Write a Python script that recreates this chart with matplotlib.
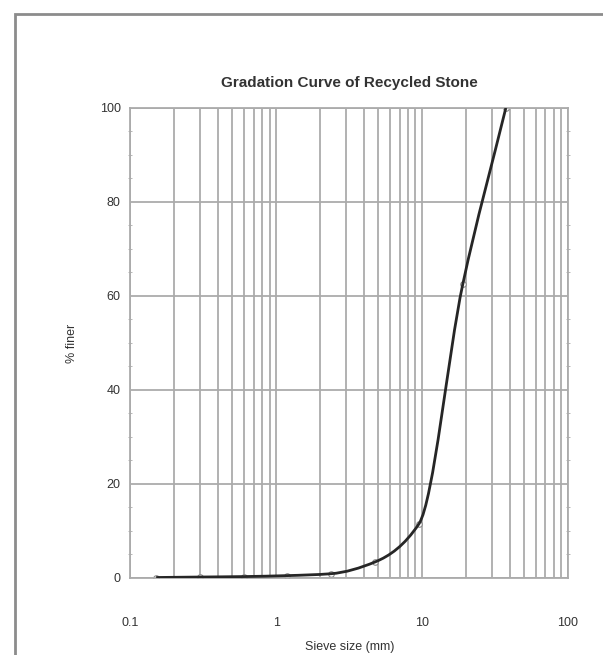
import numpy as np
import matplotlib.pyplot as plt
from matplotlib.path import Path
from matplotlib.patches import PathPatch, Rectangle
from matplotlib.ticker import LogLocator, MultipleLocator, NullFormatter

plt.rcParams['font.family'] = ['Liberation Sans', 'DejaVu Sans']

# sieve analysis results
sieve_mm = [0.15, 0.3, 0.6, 1.18, 2.36, 4.75, 9.5, 19.0, 37.5]
pct_finer = [0.1, 0.2, 0.3, 0.5, 0.9, 3.4, 11.5, 62.5, 100.0]
x_ticks = [0.1, 1, 10, 100]
x_tick_labels = ['0.1', '1', '10', '100']
y_ticks = [0, 20, 40, 60, 80, 100]

grid_col = '#ababab'
text_col = '#333333'


def smooth_path(xs, ys):
    # monotone cubic (Fritsch-Carlson tangents) through the points in log-x space,
    # written as bezier segments so the axes transform does the mapping
    u = np.log10(xs)
    y = np.asarray(ys, dtype=float)
    h = np.diff(u)
    d = np.diff(y) / h
    m = np.zeros_like(y)
    m[0], m[-1] = d[0], d[-1]
    for i in range(1, len(y) - 1):
        if d[i - 1] * d[i] > 0:
            w1 = 2 * h[i] + h[i - 1]
            w2 = h[i] + 2 * h[i - 1]
            m[i] = (w1 + w2) / (w1 / d[i - 1] + w2 / d[i])
    verts = [(u[0], y[0])]
    codes = [Path.MOVETO]
    for i in range(len(y) - 1):
        verts += [(u[i] + h[i] / 3, y[i] + m[i] * h[i] / 3),
                  (u[i + 1] - h[i] / 3, y[i + 1] - m[i + 1] * h[i] / 3),
                  (u[i + 1], y[i + 1])]
        codes += [Path.CURVE4] * 3
    verts = np.array(verts)
    verts[:, 0] = 10 ** verts[:, 0]
    return Path(verts, codes)


fig = plt.figure(figsize=(6.03, 6.55), dpi=100)
ax = fig.add_axes([0.2164, 0.1176, 0.7255, 0.7176])

# chart area frame (only top and left edges fall inside the image)
fig.patches.append(Rectangle((0.0249, -0.1), 1.2, 1.0786, transform=fig.transFigure,
                             fill=False, edgecolor='#8c8c8c', linewidth=2.0))

ax.set_xscale('log')
ax.set_xlim(0.1, 100)
ax.set_ylim(0, 100)

ax.set_xticks(x_ticks)
ax.set_xticklabels(x_tick_labels)
ax.xaxis.set_minor_locator(LogLocator(base=10, subs=np.arange(2, 10)))
ax.xaxis.set_minor_formatter(NullFormatter())
ax.set_yticks(y_ticks)
ax.yaxis.set_minor_locator(MultipleLocator(5))

ax.grid(True, which='major', axis='both', color=grid_col, linewidth=1.3)
ax.grid(True, which='minor', axis='x', color=grid_col, linewidth=1.3)
ax.set_axisbelow(True)

for s in ax.spines.values():
    s.set_color(grid_col)
    s.set_linewidth(1.3)

ax.tick_params(axis='x', which='both', length=0, pad=28, labelsize=9, labelcolor=text_col)
ax.tick_params(axis='y', which='major', length=0, pad=7, labelsize=9, labelcolor=text_col)
ax.tick_params(axis='y', which='minor', length=3, direction='inout', color=grid_col,
               left=True, right=True)

ax.add_patch(PathPatch(smooth_path(sieve_mm, pct_finer), fill=False,
                       edgecolor='#262626', linewidth=2.0, zorder=3))
ax.plot(sieve_mm, pct_finer, linestyle='none', marker='o', markersize=4,
        markerfacecolor='white', markeredgecolor='#8a8a8a', markeredgewidth=0.8, zorder=2)

ax.set_title('Gradation Curve of Recycled Stone', fontsize=11, color=text_col,
             fontweight='bold', pad=15)
ax.set_xlabel('Sieve size (mm)', fontsize=9, color=text_col, labelpad=9)
ax.set_ylabel('% finer', fontsize=9, color=text_col, labelpad=16)

fig.savefig('out.png', dpi=100)
